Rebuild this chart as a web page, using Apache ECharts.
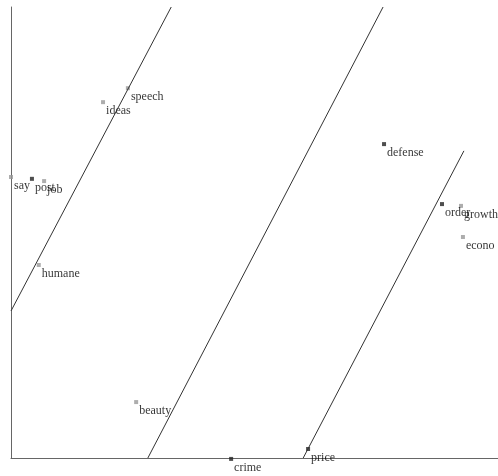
<!DOCTYPE html>
<html>
<head>
<meta charset="utf-8">
<script src="https://cdn.jsdelivr.net/npm/echarts@6/dist/echarts.min.js"></script>
<style>
  html, body { margin: 0; padding: 0; background: #fff; }
  #chart { width: 498px; height: 476px; }
</style>
</head>
<body>
<div id="chart"></div>
<script>
// word positions in the plane
const words = ["say", "post", "job", "speech", "ideas", "defense", "order", "growth", "econo", "humane", "beauty", "crime", "price"];
const xVals = [0, 0.43, 0.68, 2.40, 1.89, 7.66, 8.85, 9.24, 9.28, 0.57, 2.57, 4.52, 6.10];
const yVals = [6.23, 6.19, 6.14, 8.20, 7.89, 6.96, 5.63, 5.59, 4.90, 4.28, 1.24, -0.02, 0.20];
// 1 = dark marker, 0 = grey marker
const dark = [0, 1, 0, 0, 0, 1, 1, 0, 0, 0, 0, 1, 1];

// three parallel separating lines, [x, y] end points
const line1 = [[0, 3.26], [3.29, 10]];
const line2 = [[2.81, 0], [7.64, 10]];
const line3 = [[6.0, 0], [9.30, 6.81]];

const points = words.map(function (w, i) {
  return {
    name: w,
    value: [xVals[i], yVals[i]],
    itemStyle: { color: dark[i] ? "#222" : "#999" }
  };
});

function lineSeries(pts) {
  return {
    type: "line",
    data: pts,
    symbol: "none",
    silent: true,
    lineStyle: { color: "#333", width: 1 }
  };
}

const option = {
  animation: false,
  grid: { left: 11, right: 0, top: 7, bottom: 18 },
  xAxis: {
    type: "value",
    min: 0,
    max: 10,
    axisLine: { show: true, lineStyle: { color: "#666" } },
    axisTick: { show: false },
    axisLabel: { show: false },
    splitLine: { show: false }
  },
  yAxis: {
    type: "value",
    min: 0,
    max: 10,
    axisLine: { show: true, lineStyle: { color: "#666" } },
    axisTick: { show: false },
    axisLabel: { show: false },
    splitLine: { show: false }
  },
  series: [
    lineSeries(line1),
    lineSeries(line2),
    lineSeries(line3),
    {
      type: "scatter",
      clip: false,
      symbol: "rect",
      symbolSize: 4,
      data: points,
      label: {
        show: true,
        position: "right",
        distance: 1,
        offset: [0, 9],
        formatter: "{b}",
        color: "#000",
        fontFamily: "Liberation Serif",
        fontSize: 12
      }
    }
  ]
};

const myChart = echarts.init(document.getElementById("chart"));
myChart.setOption(option);
</script>
</body>
</html>
